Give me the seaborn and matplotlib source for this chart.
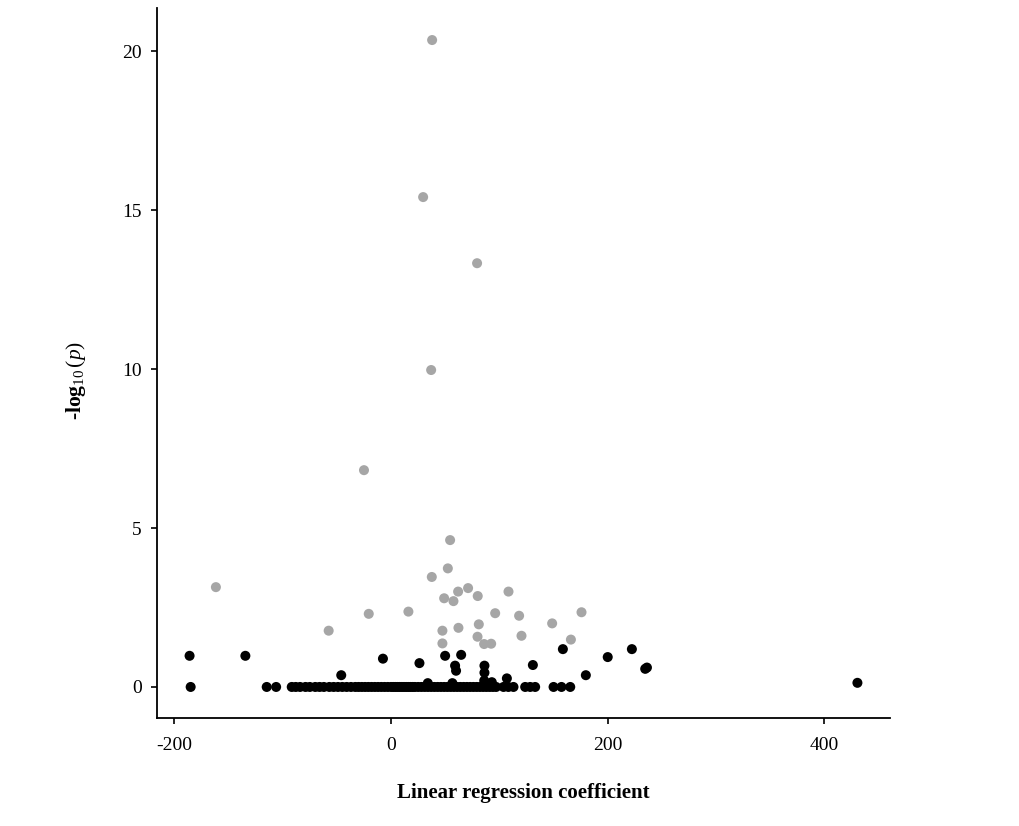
import matplotlib
matplotlib.use("Agg")
import matplotlib.pyplot as plt
import pandas as pd
import seaborn as sns

# significant associations (grey)
sig_coef = [37.9, 29.6, 79.4, 37.0, -25.0, 54.5, -161.7, 37.6, 52.4, -57.6,
            -20.6, 16.0, 49.0, 57.6, 61.9, 71.1, 80.0, 108.4, 96.1, 118.2,
            148.7, 175.8, 47.4, 62.2, 81.0, 79.8, 120.4, 166.0, 47.4, 85.9, 92.4]
sig_logp = [20.35, 15.41, 13.33, 9.97, 6.82, 4.62, 3.14, 3.46, 3.73, 1.77,
            2.30, 2.37, 2.79, 2.70, 3.00, 3.11, 2.86, 3.00, 2.32, 2.24,
            2.00, 2.35, 1.77, 1.86, 1.97, 1.58, 1.61, 1.49, 1.37, 1.35, 1.36]

# non-significant associations above zero (black)
ns_coef = [-186.0, -134.5, -46.0, -7.5, 26.2, 49.9, 64.7, 59.1, 60.0, 86.2,
           86.2, 86.0, 33.9, 56.6, 93.0, 106.9, 130.9, 158.6, 179.8, 200.0,
           222.3, 234.6, 236.2, 430.5]
ns_logp = [0.98, 0.98, 0.37, 0.89, 0.75, 0.98, 1.01, 0.67, 0.51, 0.67,
           0.45, 0.20, 0.12, 0.12, 0.15, 0.27, 0.69, 1.19, 0.37, 0.94,
           1.19, 0.57, 0.61, 0.13]

# coefficients with -log10(p) ~ 0
zero_coef = [-185.0, -114.8, -106.1, -91.7, -88.0, -84.0, -79.0, -75.0, -70.0,
             -66.0, -62.0, -57.0, -53.0, -49.0, -45.0, -41.0, -37.0, -33.0,
             -30.0, -27.0, -24.0, -21.0, -18.0, -15.0, -12.0, -9.0, -6.0, -3.0,
             0.0, 2.0, 4.0, 6.0, 8.0, 10.0, 12.0, 14.0, 16.0, 18.0, 20.0, 22.0,
             25.0, 28.0, 31.0, 34.0, 37.0, 40.0, 43.0, 46.0, 49.0, 52.0, 55.0,
             58.0, 61.0, 64.0, 67.0, 70.0, 73.0, 76.0, 79.0, 82.0, 85.0, 88.0,
             91.0, 94.0, 97.0, 103.8, 108.3, 113.0, 123.8, 128.4, 133.0,
             150.0, 157.3, 165.4]

df = pd.DataFrame({
    "coef": sig_coef + ns_coef + zero_coef,
    "logp": sig_logp + ns_logp + [0.0] * len(zero_coef),
    "group": ["sig"] * len(sig_coef) + ["ns"] * (len(ns_coef) + len(zero_coef)),
})

sns.set_style("ticks")
plt.rcParams["font.family"] = ["Liberation Serif", "DejaVu Serif"]
plt.rcParams["mathtext.fontset"] = "custom"
plt.rcParams["mathtext.rm"] = "Liberation Serif"
plt.rcParams["mathtext.bf"] = "Liberation Serif:bold"
plt.rcParams["mathtext.it"] = "Liberation Serif:italic"
plt.rcParams["axes.unicode_minus"] = False
plt.rcParams["text.color"] = "black"
plt.rcParams["axes.labelcolor"] = "black"
plt.rcParams["xtick.color"] = "black"
plt.rcParams["ytick.color"] = "black"
plt.rcParams["axes.edgecolor"] = "black"

fig = plt.figure(figsize=(10.2, 8.26), dpi=100)
ax = fig.add_axes([0.154, 0.131, 0.719, 0.859])

sns.scatterplot(data=df, x="coef", y="logp", hue="group",
                palette={"sig": "#a6a6a6", "ns": "black"},
                s=52, edgecolor="none", linewidth=0, legend=False, ax=ax)

ax.set_xlim(-216, 461)
ax.set_ylim(-0.97, 21.35)
ax.set_xticks([-200, 0, 200, 400])
ax.set_yticks([0, 5, 10, 15, 20])
sns.despine(ax=ax)
for side in ("left", "bottom"):
    ax.spines[side].set_linewidth(1.3)
ax.tick_params(direction="out", length=4, width=1.2, labelsize=14)
ax.tick_params(axis="x", pad=10)
ax.tick_params(axis="y", pad=7)

ax.set_xlabel("Linear regression coefficient", fontsize=15,
              fontweight="bold", labelpad=21)
ax.set_ylabel(r"-log$_{10}\,(\mathit{p})$", fontsize=15.5, fontweight="bold")
ax.yaxis.set_label_coords(-0.094, 0.476)

fig.savefig("out.png", dpi=100)
